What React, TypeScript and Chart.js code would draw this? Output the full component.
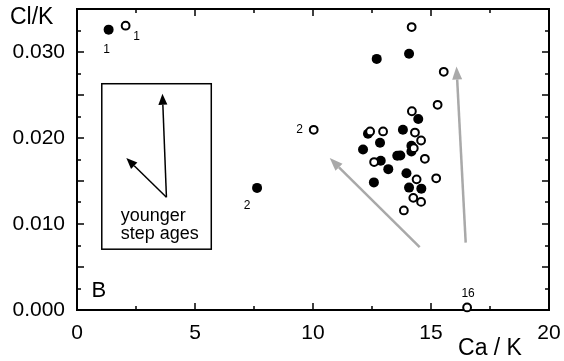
import React, { useEffect, useRef } from "react";
import { Chart, registerables } from "chart.js";

Chart.register(...registerables);

// ---- data ----
const filledCaK = [1.34, 12.7, 14.07, 7.63, 14.46, 13.81, 12.33, 12.84, 12.12, 14.17, 14.17, 13.57, 13.7, 12.87, 13.19, 13.96, 12.58, 14.07, 14.59];
const filledClK = [0.0326, 0.0292, 0.0298, 0.0142, 0.0222, 0.02095, 0.0205, 0.01944, 0.01866, 0.0191, 0.01843, 0.01793, 0.01796, 0.01735, 0.01638, 0.01591, 0.01484, 0.01423, 0.01411];
const openCaK = [2.06, 14.18, 15.54, 15.28, 14.19, 10.03, 12.42, 12.97, 14.32, 14.58, 14.27, 14.74, 12.59, 15.22, 14.39, 14.25, 14.58, 13.85, 16.53];
const openClK = [0.03306, 0.0329, 0.0277, 0.02386, 0.02311, 0.02095, 0.02076, 0.02076, 0.02063, 0.01971, 0.01882, 0.01758, 0.0172, 0.01531, 0.01519, 0.01304, 0.01257, 0.01158, 0.0003];

const xTickValues = [0, 5, 10, 15, 20];
const yTickValues = [0, 0.01, 0.02, 0.03];
const xLongTicks = [5, 10, 15];
const xShortTicks = [2.5, 7.5, 12.5, 17.5];
const yLongTicks = [0.005, 0.01, 0.015, 0.02, 0.025, 0.03];
const yShortTicks = [0.0025, 0.0075, 0.0125, 0.0175, 0.0225, 0.0275, 0.0325];

const xTitle = "Ca / K";
const yTitle = "Cl/K";
const panelLabel = "B";
const insetText = ["younger", "step ages"];

// annotation geometry in data units: [x0, y0, x1, y1]
const grayArrows = [
  [14.52, 0.0073, 10.71, 0.01766],
  [16.47, 0.00783, 16.08, 0.02832],
];
const insetArrows = [
  [3.79, 0.01312, 3.62, 0.02515],
  [3.79, 0.01312, 2.09, 0.01766],
];
const insetBox = [1.05, 0.02631, 5.69, 0.00707];
const insetTextAnchor = [1.85, 0.01094, 0.00885];
const panelAnchor = [0.93, 0.00225];

// step labels: series, index, text
const stepLabels: { series: "filled" | "open"; index: number; text: string; dx: number; dy: number }[] = [
  { series: "filled", index: 0, text: "1", dx: -2, dy: 20 },
  { series: "open", index: 0, text: "1", dx: 11, dy: 11 },
  { series: "open", index: 5, text: "2", dx: -14, dy: 0 },
  { series: "filled", index: 3, text: "2", dx: -10, dy: 18 },
  { series: "open", index: 18, text: "16", dx: 1, dy: -14 },
];

const FONT = "'Liberation Sans', Arial, Helvetica, sans-serif";

function drawArrow(ctx: CanvasRenderingContext2D, x0: number, y0: number, x1: number, y1: number, color: string, lw: number, headLen: number, headHalf: number) {
  const ang = Math.atan2(y1 - y0, x1 - x0);
  const bx = x1 - headLen * Math.cos(ang);
  const by = y1 - headLen * Math.sin(ang);
  ctx.strokeStyle = color;
  ctx.fillStyle = color;
  ctx.lineWidth = lw;
  ctx.beginPath();
  ctx.moveTo(x0, y0);
  ctx.lineTo(bx, by);
  ctx.stroke();
  ctx.beginPath();
  ctx.moveTo(x1, y1);
  ctx.lineTo(bx + headHalf * Math.sin(ang), by - headHalf * Math.cos(ang));
  ctx.lineTo(bx - headHalf * Math.sin(ang), by + headHalf * Math.cos(ang));
  ctx.closePath();
  ctx.fill();
}

const decorPlugin = {
  id: "decor",
  beforeDatasetsDraw(chart: any) {
    const { ctx, chartArea: a, scales } = chart;
    const x = scales.x;
    const y = scales.y;
    const px = (v: number) => x.getPixelForValue(v);
    const py = (v: number) => y.getPixelForValue(v);
    ctx.save();

    // inset box
    ctx.strokeStyle = "#000";
    ctx.lineWidth = 1.5;
    ctx.strokeRect(px(insetBox[0]), py(insetBox[1]), px(insetBox[2]) - px(insetBox[0]), py(insetBox[3]) - py(insetBox[1]));
    for (const ar of insetArrows) {
      drawArrow(ctx, px(ar[0]), py(ar[1]), px(ar[2]), py(ar[3]), "#000", 1.5, 11, 4.5);
    }
    ctx.fillStyle = "#000";
    ctx.font = `18px ${FONT}`;
    ctx.textAlign = "left";
    ctx.textBaseline = "middle";
    ctx.fillText(insetText[0], px(insetTextAnchor[0]), py(insetTextAnchor[1]));
    ctx.fillText(insetText[1], px(insetTextAnchor[0]), py(insetTextAnchor[2]));

    // gray arrows
    for (const ar of grayArrows) {
      drawArrow(ctx, px(ar[0]), py(ar[1]), px(ar[2]), py(ar[3]), "#a9a9a9", 2.5, 13, 5);
    }

    // panel label
    ctx.fillStyle = "#000";
    ctx.font = `22px ${FONT}`;
    ctx.textAlign = "center";
    ctx.textBaseline = "middle";
    ctx.fillText(panelLabel, px(panelAnchor[0]), py(panelAnchor[1]));

    // frame
    ctx.strokeStyle = "#000";
    ctx.lineWidth = 2;
    ctx.strokeRect(a.left, a.top, a.right - a.left, a.bottom - a.top);

    // inward ticks
    ctx.lineWidth = 1.5;
    ctx.beginPath();
    const xt = (vals: number[], len: number) => {
      for (const v of vals) {
        const p = Math.round(px(v));
        ctx.moveTo(p, a.bottom);
        ctx.lineTo(p, a.bottom - len);
        ctx.moveTo(p, a.top);
        ctx.lineTo(p, a.top + len);
      }
    };
    const yt = (vals: number[], len: number) => {
      for (const v of vals) {
        const p = Math.round(py(v));
        ctx.moveTo(a.left, p);
        ctx.lineTo(a.left + len, p);
        ctx.moveTo(a.right, p);
        ctx.lineTo(a.right - len, p);
      }
    };
    xt(xLongTicks, 7);
    xt(xShortTicks, 4);
    yt(yLongTicks, 7);
    yt(yShortTicks, 4);
    ctx.stroke();

    // axis titles
    ctx.fillStyle = "#000";
    ctx.font = `23px ${FONT}`;
    ctx.textAlign = "left";
    ctx.textBaseline = "middle";
    ctx.fillText(yTitle, 10, 18);
    ctx.textAlign = "center";
    ctx.fillText(xTitle, 490, 349);
    ctx.restore();
  },
  afterDatasetsDraw(chart: any) {
    const { ctx } = chart;
    ctx.save();
    ctx.fillStyle = "#000";
    ctx.font = `12px ${FONT}`;
    ctx.textAlign = "center";
    ctx.textBaseline = "middle";
    for (const l of stepLabels) {
      const meta = chart.getDatasetMeta(l.series === "open" ? 0 : 1);
      const el = meta.data[l.index];
      ctx.fillText(l.text, el.x + l.dx, el.y + l.dy);
    }
    ctx.restore();
  },
};

export default function App() {
  const ref = useRef<HTMLCanvasElement | null>(null);
  useEffect(() => {
    document.body.style.margin = "0";
    if (!ref.current) return;
    const chart = new Chart(ref.current, {
      type: "scatter",
      data: {
        datasets: [
          {
            label: "open",
            data: openCaK.map((v, i) => ({ x: v, y: openClK[i] })),
            pointRadius: 3.9,
            pointBorderWidth: 2,
            pointBackgroundColor: "#fff",
            pointBorderColor: "#000",
            clip: false as any,
          },
          {
            label: "filled",
            data: filledCaK.map((v, i) => ({ x: v, y: filledClK[i] })),
            pointRadius: 5,
            pointBorderWidth: 0,
            pointBackgroundColor: "#000",
            pointBorderColor: "#000",
            clip: false as any,
          },
        ],
      },
      options: {
        animation: false,
        responsive: false,
        layout: { padding: { top: 9, right: 15, left: 0, bottom: 0 } },
        plugins: { legend: { display: false }, tooltip: { enabled: false } },
        scales: {
          x: {
            type: "linear",
            min: 0,
            max: 20,
            grid: { display: false, drawTicks: false },
            border: { display: false },
            afterBuildTicks: (s: any) => {
              s.ticks = xTickValues.map((v) => ({ value: v }));
            },
            afterFit: (s: any) => {
              s.height = 51;
              s.paddingLeft = 0;
              s.paddingRight = 0;
            },
            ticks: {
              padding: 11,
              color: "#000",
              font: { family: FONT, size: 21 },
              maxRotation: 0,
              autoSkip: false,
              callback: (v: any) => String(v),
            },
          },
          y: {
            type: "linear",
            min: 0,
            max: 0.035,
            grid: { display: false, drawTicks: false },
            border: { display: false },
            afterBuildTicks: (s: any) => {
              s.ticks = yTickValues.map((v) => ({ value: v }));
            },
            afterFit: (s: any) => {
              s.width = 77;
              s.paddingTop = 0;
              s.paddingBottom = 0;
            },
            ticks: {
              padding: 12,
              color: "#000",
              font: { family: FONT, size: 21 },
              autoSkip: false,
              callback: (v: any) => Number(v).toFixed(3),
            },
          },
        },
      },
      plugins: [decorPlugin],
    });
    return () => chart.destroy();
  }, []);
  return (
    <div style={{ width: 564, height: 361, background: "#fff" }}>
      <canvas ref={ref} width={564} height={361} />
    </div>
  );
}
